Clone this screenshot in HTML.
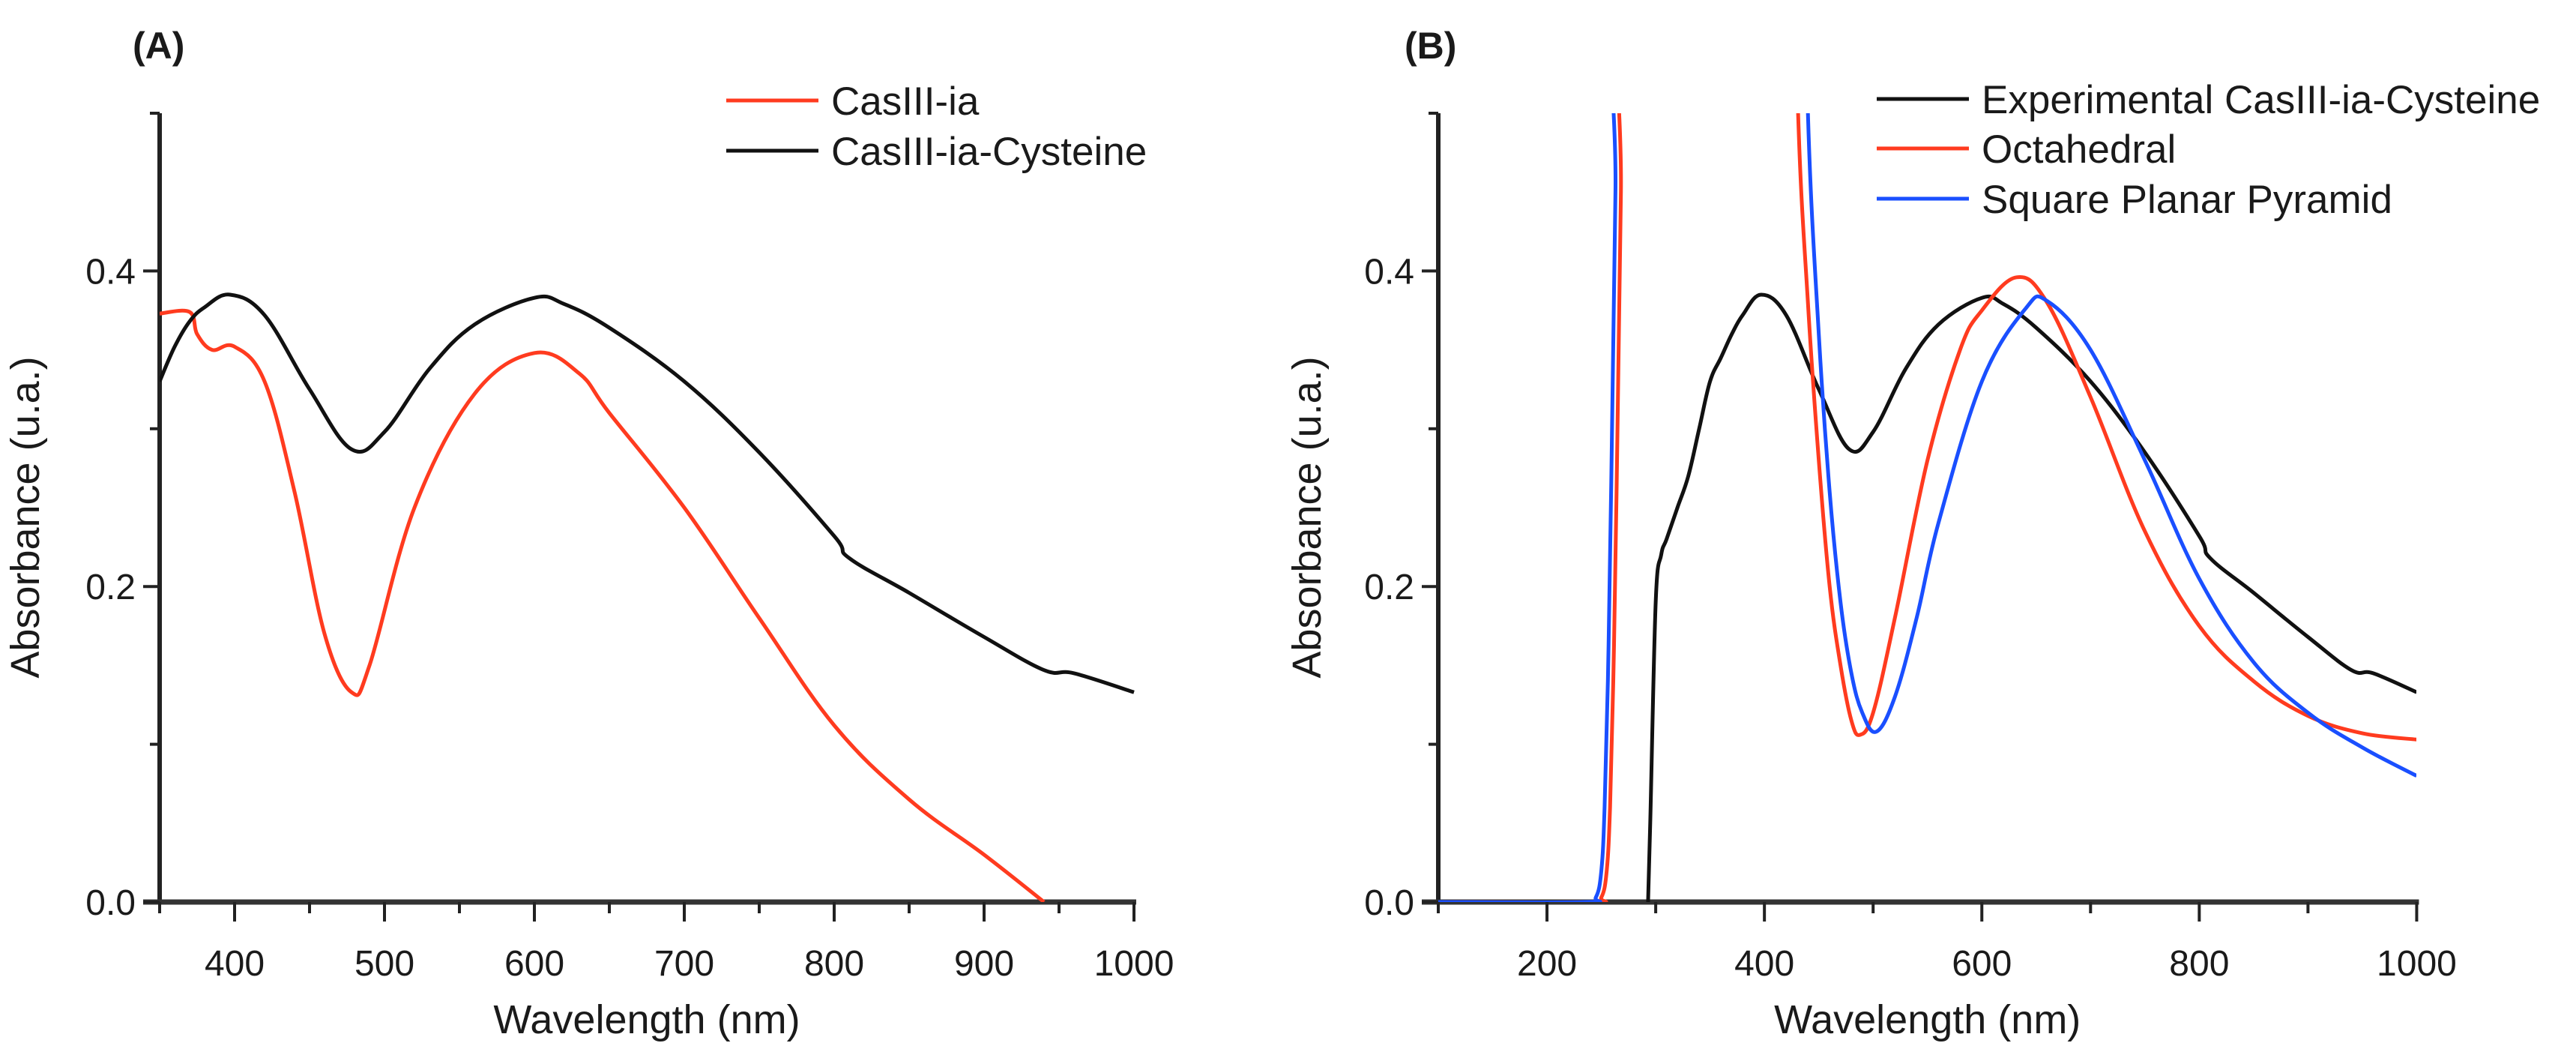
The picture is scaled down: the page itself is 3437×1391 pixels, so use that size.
<!DOCTYPE html>
<html><head><meta charset="utf-8">
<style>
html,body{margin:0;padding:0;background:#fff;}
svg{display:block;font-family:"Liberation Sans",Arial,sans-serif;}
</style></head>
<body>
<svg id="chart" width="3437" height="1391" viewBox="0 0 3437 1391" xmlns="http://www.w3.org/2000/svg">
<defs>
<clipPath id="clipA"><rect x="213" y="151" width="1302" height="1052"/></clipPath>
<clipPath id="clipB"><rect x="1919" y="151" width="1305" height="1052"/></clipPath>
</defs>
<g id="panelA"></g>
<g id="panelB"></g>
</svg>
<script>
// ---- Panel A data ----
const aWave = [350,360,370,380,397,420,450,478,500,530,560,600,620,650,700,750,800,810,850,900,940,960,1000];
const aCysteine = [0.33,0.352,0.368,0.377,0.385,0.372,0.325,0.287,0.298,0.338,0.366,0.383,0.379,0.364,0.33,0.285,0.232,0.218,0.196,0.168,0.147,0.145,0.133];
const aRedWave = [350,370,375,385,400,420,440,460,478,490,520,560,600,630,650,700,750,800,850,900,940];
const aCasIII = [0.373,0.374,0.36,0.35,0.352,0.33,0.26,0.17,0.133,0.15,0.25,0.322,0.348,0.335,0.31,0.25,0.18,0.112,0.065,0.03,0.0];
const aXTicks = [400,500,600,700,800,900,1000];
const aXMinor = [350,450,550,650,750,850,950];
// ---- Panel B data ----
const bExpWave = [293,295,300,305,310,320,330,340,350,360,370,380,397,420,450,478,500,530,560,600,620,650,700,750,800,810,850,900,940,960,1000];
const bExp = [0.0,0.05,0.19,0.22,0.23,0.25,0.27,0.3,0.33,0.345,0.36,0.372,0.385,0.372,0.325,0.287,0.298,0.338,0.366,0.383,0.379,0.364,0.33,0.285,0.232,0.218,0.196,0.168,0.147,0.145,0.133];
const bOctWave = [100,240,250,255,258,261,264,268,272,425,431,440,450,460,470,480,488,500,520,550,580,600,632,660,700,750,800,850,900,950,1000];
const bOct = [0,0,0.003,0.02,0.06,0.14,0.26,0.45,0.7,0.7,0.5,0.38,0.28,0.2,0.15,0.115,0.106,0.12,0.18,0.28,0.35,0.375,0.396,0.38,0.32,0.235,0.175,0.14,0.118,0.107,0.103];
const bSqWave = [100,235,245,250,253,256,259,263,268,435,440,450,460,470,480,490,503,520,540,560,600,640,660,700,750,800,850,900,950,1000];
const bSq = [0,0,0.003,0.02,0.06,0.14,0.26,0.45,0.7,0.7,0.5,0.36,0.26,0.19,0.145,0.12,0.108,0.13,0.18,0.24,0.33,0.376,0.381,0.35,0.28,0.205,0.152,0.12,0.098,0.08];
const bXTicks = [200,400,600,800,1000];
const bXMinor = [100,300,500,700,900];
// ---- shared y ----
const yTicks = [0.0,0.2,0.4];
const yTickLabels = ["0.0","0.2","0.4"];
const yMinor = [0.1,0.3,0.5];

const NS="http://www.w3.org/2000/svg";
const Y0=1203, YPX=2104;
function yS(v){return Y0 - v*YPX;}
function xA(w){return 213 + (w-350)*2.0;}
function xB(w){return 1919 + (w-100)*1.4505;}
function mk(tag, parent, attrs){const e=document.createElementNS(NS,tag);for(const k in attrs)e.setAttribute(k,attrs[k]);parent.appendChild(e);return e;}
function txt(parent,x,y,s,size,anchor,weight){const t=mk('text',parent,{x:x,y:y,'font-size':size,'text-anchor':anchor||'middle','fill':'#1a1a1a'});if(weight)t.setAttribute('font-weight',weight);t.textContent=s;return t;}
function pathD(ws,vs,xf){
  const P=ws.map((w,i)=>[xf(w),yS(vs[i])]);
  let d='M'+P[0][0].toFixed(1)+','+P[0][1].toFixed(1);
  const k=0.18;
  for(let i=0;i<P.length-1;i++){
    const p0=P[Math.max(0,i-1)],p1=P[i],p2=P[i+1],p3=P[Math.min(P.length-1,i+2)];
    const c1=[p1[0]+(p2[0]-p0[0])*k,p1[1]+(p2[1]-p0[1])*k];
    const c2=[p2[0]-(p3[0]-p1[0])*k,p2[1]-(p3[1]-p1[1])*k];
    d+=' C'+c1[0].toFixed(1)+','+c1[1].toFixed(1)+' '+c2[0].toFixed(1)+','+c2[1].toFixed(1)+' '+p2[0].toFixed(1)+','+p2[1].toFixed(1);
  }
  return d;
}

function axes(g, xf, x0w, x1w, ticks, minors, letter, letterX, ytitleX){
  const L=xf(x0w), R=xf(x1w);
  let e=mk('line',g,{x1:L,y1:yS(0.5),x2:L,y2:Y0+3,stroke:'#222','stroke-width':6});
  
  
  e=mk('line',g,{x1:L-22,y1:Y0,x2:R+3,y2:Y0,stroke:'#333','stroke-width':7});
  
  
  yTicks.forEach((v,i)=>{
    const t=mk('line',g,{x1:L-22,y1:yS(v),x2:L,y2:yS(v),stroke:'#222','stroke-width':4});
    
    
    const l=txt(g,L-32,yS(v)+17,yTickLabels[i],48,'end');
    
    
  });
  yMinor.forEach(v=>{
    const t=mk('line',g,{x1:L-13,y1:yS(v),x2:L,y2:yS(v),stroke:'#222','stroke-width':4});
    
    
  });
  ticks.forEach(w=>{
    const t=mk('line',g,{x1:xf(w),y1:Y0,x2:xf(w),y2:Y0+26,stroke:'#222','stroke-width':4});
    
    
    const l=txt(g,xf(w),Y0+98,String(w),48,'middle');
    
    
  });
  minors.forEach(w=>{
    const t=mk('line',g,{x1:xf(w),y1:Y0,x2:xf(w),y2:Y0+15,stroke:'#222','stroke-width':4});
    
    
  });
  let xt=txt(g,(L+R)/2,Y0+175,'Wavelength (nm)',54,'middle');
  
  
  let yt=mk('text',g,{x:0,y:0,'font-size':54,'text-anchor':'middle',fill:'#1a1a1a',transform:'translate('+ytitleX+',690) rotate(-90)'});
  yt.textContent='Absorbance (u.a.)';
  
  
  let lt=txt(g,letterX,78,letter,50,'start','bold');
  
  
}
function series(g,ws,vs,xf,color,clip,name){
  const p=mk('path',g,{d:pathD(ws,vs,xf),fill:'none',stroke:color,'stroke-width':5,'stroke-linejoin':'round','clip-path':'url(#'+clip+')'});
  
  
}
function legend(g,x,y,color,label,name){
  const lg=mk('g',g,{});
  
  
  mk('line',lg,{x1:x,y1:y,x2:x+123,y2:y,stroke:color,'stroke-width':5});
  txt(lg,x+140,y+19,label,53,'start');
}

const gA=document.getElementById('panelA');
axes(gA,xA,350,1000,aXTicks,aXMinor,'(A)',177,52);
series(gA,aRedWave,aCasIII,xA,'#ff3b1f','clipA','casiii-ia-line');
series(gA,aWave,aCysteine,xA,'#111','clipA','casiii-ia-cysteine-line');
legend(gA,969,134,'#ff3b1f','CasIII-ia','legend-casiii-ia');
legend(gA,969,201,'#111','CasIII-ia-Cysteine','legend-casiii-ia-cysteine');

const gB=document.getElementById('panelB');
axes(gB,xB,100,1000,bXTicks,bXMinor,'(B)',1874,1762);
series(gB,bExpWave,bExp,xB,'#111','clipB','experimental-line');
series(gB,bOctWave,bOct,xB,'#ff3b1f','clipB','octahedral-line');
series(gB,bSqWave,bSq,xB,'#1a4fff','clipB','square-planar-pyramid-line');
legend(gB,2504,132,'#111','Experimental CasIII-ia-Cysteine','legend-experimental');
legend(gB,2504,198,'#ff3b1f','Octahedral','legend-octahedral');
legend(gB,2504,265,'#1a4fff','Square Planar Pyramid','legend-square-planar-pyramid');
</script>
</body></html>
